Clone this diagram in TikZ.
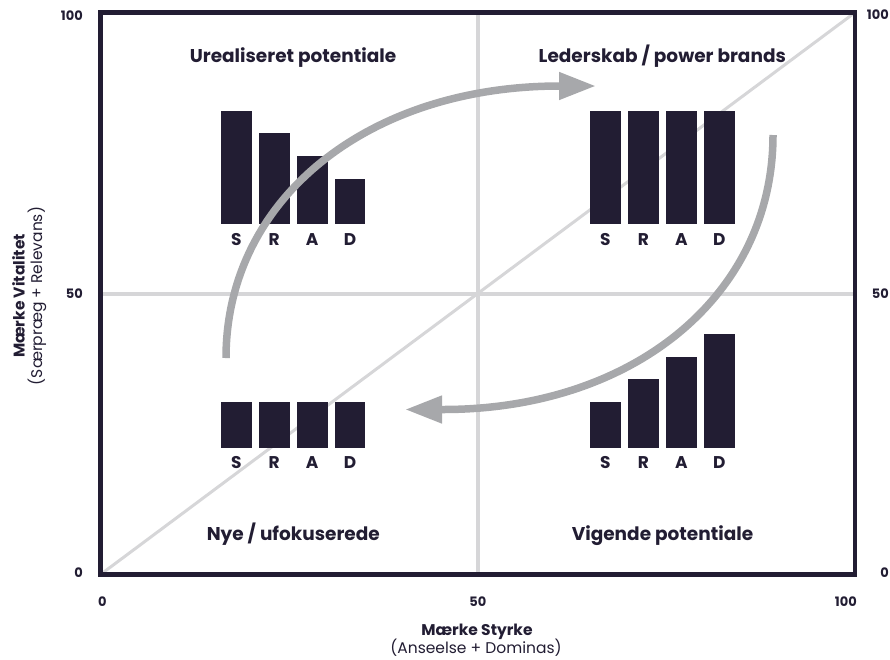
\documentclass[tikz,border=0pt]{standalone}
\usepackage{fontspec}
\setmainfont{Poppins}
\usetikzlibrary{arrows.meta}
\definecolor{navy}{HTML}{221D33}
\definecolor{arrowgray}{HTML}{A7A8AB}
\definecolor{gridgray}{HTML}{D6D6D8}
\begin{document}
\begin{tikzpicture}[x=1pt,y=-1pt,
  frame/.style={draw=navy,line width=4.5pt,line join=miter},
  gridline/.style={draw=gridgray,line width=4pt},
  diagline/.style={draw=gridgray,line width=3pt},
  bar/.style={fill=navy},
  barlabel/.style={text=navy,font=\bfseries\fontsize{17}{17}\selectfont,inner sep=0pt},
  qtitle/.style={text=navy,font=\bfseries\fontsize{18.5}{20}\selectfont,inner sep=0pt,anchor=base},
  num/.style={text=navy,font=\bfseries\fontsize{13}{15}\selectfont,inner sep=0pt},
  axtitle/.style={text=navy,font=\bfseries\fontsize{15.5}{18}\selectfont,inner sep=0pt,anchor=base},
  axsub/.style={text=navy,font=\fontsize{15.5}{18}\selectfont,inner sep=0pt,anchor=base},
  flow/.style={draw=arrowgray,line width=7.5pt,line cap=butt,-{Triangle[length=37pt,width=26pt]}},
]
\useasboundingbox (0,0) rectangle (890,659);

% grid and diagonal
\draw[gridline] (477.75,12.5) -- (477.75,574.5);
\draw[gridline] (100.5,293.5) -- (855,293.5);
\draw[diagline] (100.5,574.5) -- (855,12.5);

% bars: top-left
\foreach \i/\t/\l in {0/111/S,1/132.7/R,2/155.7/A,3/179/D}{
  \fill[bar] (221+37.9*\i,\t) rectangle ++(30.7,224.4-\t);
  \node[barlabel] (tl\l) at (236.35+37.9*\i,240) {\l};
}
% bars: top-right
\foreach \i/\t/\l in {0/111/S,1/111/R,2/111/A,3/111/D}{
  \fill[bar] (590+38*\i,\t) rectangle ++(30.7,224.4-\t);
  \node[barlabel] (tr\l) at (605.35+38*\i,240) {\l};
}
% bars: bottom-left
\foreach \i/\t/\l in {0/402.3/S,1/402.3/R,2/402.3/A,3/402.3/D}{
  \fill[bar] (221+37.9*\i,\t) rectangle ++(30.7,447.7-\t);
  \node[barlabel] (bl\l) at (236.35+37.9*\i,462.7) {\l};
}
% bars: bottom-right
\foreach \i/\t/\l in {0/402/S,1/379/R,2/357/A,3/334/D}{
  \fill[bar] (590+38*\i,\t) rectangle ++(30.7,447.7-\t);
  \node[barlabel] (br\l) at (605.35+38*\i,462.7) {\l};
}

% frame
\draw[frame] (100.5,12.5) rectangle (855,574.5);

% flow arrows
\coordinate (upS) at (226,358);
\coordinate (upE) at (560,86);
\coordinate (upT) at (596,86);
\coordinate (dnS) at (773,135);
\coordinate (dnE) at (443,409.5);
\coordinate (dnT) at (405,409.5);
\draw[flow] (upS) .. controls (226,200.2) and (366.3,86) .. (upE) -- (upT);
\draw[flow] (dnS) .. controls (773,294.5) and (634.4,409.5) .. (dnE) -- (dnT);

% quadrant titles
\node[qtitle] (q1) at (293,62.7) {Urealiseret potentiale};
\node[qtitle] (q2) at (662.3,62.7) {Lederskab / power brands};
\node[qtitle] (q3) at (293.3,540.5) {Nye / ufokuserede};
\node[qtitle] (q4) at (662.5,540.5) {Vigende potentiale};

% axis numbers left
\node[num,anchor=east] (l100) at (83,16) {100};
\node[num,anchor=east] (l50) at (83,294) {50};
\node[num,anchor=east] (l0) at (83,572.7) {0};
% axis numbers right
\node[num,anchor=east] (r100) at (889,15) {100};
\node[num,anchor=east] (r50) at (889,294) {50};
\node[num,anchor=east] (r0) at (889,572.7) {0};
% axis numbers bottom
\node[num,anchor=west] (b0) at (98,601.7) {0};
\node[num] (b50) at (477.8,601.7) {50};
\node[num,anchor=east] (b100) at (857,601.7) {100};

% axis titles
\node[axtitle] (xt) at (477,635.5) {Mærke Styrke};
\node[axsub] (xs) at (476,653) {(Anseelse + Dominas)};
\node[axtitle,rotate=90] (yt) at (24.5,296) {Mærke Vitalitet};
\node[axsub,rotate=90] (ys) at (42,296) {(Særpræg\ +\ Relevans)};
\end{tikzpicture}
\end{document}
